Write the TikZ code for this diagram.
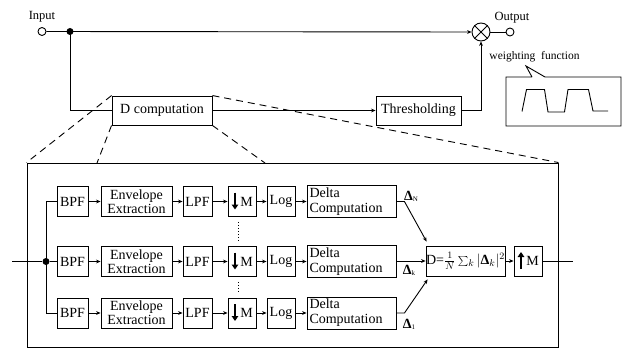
\documentclass[tikz,border=0pt]{standalone}
\usepackage{fix-cm}
\usepackage{fontspec}
\setmainfont{Liberation Serif}
\usetikzlibrary{arrows.meta,calc}
\newcommand{\bdelta}{\mbox{\bfseries Δ}}
\begin{document}
\begin{tikzpicture}[x=1pt,y=-1pt,line width=0.9pt,
  blk/.style={draw,line width=0.9pt,inner sep=1pt,font=\fontsize{14}{14}\selectfont,minimum height=30pt},
  dblk/.style={draw,line width=0.9pt,inner sep=2pt,font=\fontsize{14}{15}\selectfont,minimum height=32pt,minimum width=89pt,text width=84pt,align=left},
  arr/.style={-{Stealth[length=4.5pt,width=3.8pt]}},
  fat/.style={line width=1.9pt,-{Triangle[length=5pt,width=6.5pt]}},
  term/.style={draw,circle,fill=white,minimum size=8pt,inner sep=0pt},
  jdot/.style={circle,fill=black,minimum size=7pt,inner sep=0pt},
  lbl/.style={font=\fontsize{12.5}{12.5}\selectfont,inner sep=0pt},
  dlab/.style={font=\fontsize{14}{14}\selectfont,inner sep=0pt},
  zoomline/.style={dash pattern=on 7pt off 5pt,line width=0.9pt}]
\useasboundingbox (0,0) rectangle (624,350);

% ---- top level ----
\node[term] (in) at (42,31.5) {};
\node[lbl] (inlab) at (42,17) {Input};
\node[jdot] (j0) at (70,31.5) {};
\node[draw,circle,minimum size=18pt,inner sep=0pt] (mul) at (481,32) {};
\draw (mul.north west) -- (mul.south east) (mul.north east) -- (mul.south west);
\node[term] (out) at (510,32) {};
\node[lbl] (outlab) at (512,18) {Output};
\draw[arr] (in.east) -- (mul.west);
\draw (mul.east) -- (out.west);

\node[blk,minimum width=100pt,minimum height=29pt] (dcomp) at (162,110.5) {D computation};
\node[blk,minimum width=85pt,minimum height=29pt] (thr) at (418.5,110.5) {Thresholding};
\draw (j0.center) |- (dcomp.west);
\draw[arr] (dcomp.east) -- (thr.west);
\draw[arr] (thr.east) -| (mul.south);

% weighting function callout
\node[font=\fontsize{11.5}{11.5}\selectfont,inner sep=0pt] (wlab) at (534.5,57) {weighting\ \ function};
\draw (532,77) -- (526,66) -- (545,77) -- (621,77) -- (621,126) -- (506,126) -- (506,77) -- (532,77);
\draw (522,111.5) -- (526.5,89.5) -- (544.5,89.5) -- (548,112) -- (564.5,112) -- (568,89.5) -- (588.5,89.5) -- (593,111) -- (608,111);

% ---- expanded box ----
\node[draw,line width=0.9pt,minimum width=531pt,minimum height=184pt,inner sep=0pt] (big) at (292.5,255) {};
\coordinate (z1) at (97,163);
\coordinate (z2) at (265,163);
\draw[zoomline] (dcomp.north west) -- (big.north west);
\draw[zoomline] (dcomp.south west) -- (z1);
\draw[zoomline] (dcomp.south east) -- (z2);
\draw[zoomline] (dcomp.north east) -- (big.north east);

\foreach \r/\y in {1/201.5,2/261.5,3/313}{
  \node[blk,minimum width=31pt] (bpf\r) at (72.5,\y) {BPF};
  \node[blk,minimum width=71pt,align=center] (env\r) at (136.5,\y) {Envelope\\Extraction};
  \node[blk,minimum width=29pt] (lpf\r) at (197.5,\y) {LPF};
  \node[blk,minimum width=28pt] (dm\r) at (242,\y) {\hspace*{9pt}M};
  \node[blk,minimum width=28pt] (log\r) at (281,\y) {Log};
  \node[dblk] (delta\r) at (351.5,\y) {Delta\\Computation};
  \draw[fat] ($(dm\r.center)+(-7,-9)$) -- ($(dm\r.center)+(-7,8)$);
  \draw[arr] (bpf\r) -- (env\r);
  \draw[arr] (env\r) -- (lpf\r);
  \draw[arr] (lpf\r) -- (dm\r);
  \draw[arr] (dm\r) -- (log\r);
  \draw[arr] (log\r) -- (delta\r);
}

% input and splitting
\coordinate (inL) at (12,261.5);
\node[jdot] (j1) at (46,261.5) {};
\draw (inL) -- (j1);
\draw (j1.center) |- (bpf1.west);
\draw (j1.center) |- (bpf3.west);
\draw (j1) -- (bpf2.west);

% dotted continuation between rows
\draw[line width=1pt,dash pattern=on 1pt off 2pt] ($(dm1.south)+(-4,5)$) -- ($(dm2.north)+(-4,-5)$);
\draw[line width=1pt,dash pattern=on 1pt off 2pt] ($(dm2.south)+(-4,5)$) -- ($(dm3.north)+(-4,-5)$);

% D combination
\node[blk,minimum width=75pt,inner sep=0pt] (D) at (465.5,261) {D=$\frac{1}{N}\sum_{k}|\bdelta_{k}|^{2}$};
\node[blk,minimum width=28pt] (up) at (528,261) {\hspace*{9pt}M};
\draw[fat] ($(up.center)+(-7,8)$) -- ($(up.center)+(-7,-9)$);
\coordinate (outR) at (573,261);

\coordinate (k1) at ($(delta1.east)+(8,0)$);
\coordinate (k3) at ($(delta3.east)+(8,0)$);
\draw[arr] (delta1.east) -- (k1) -- ($(D.north west)+(1,-4)$);
\draw[arr] (delta2.east |- D.west) -- (D.west);
\draw[arr] (delta3.east) -- (k3) -- ($(D.south west)+(2,3)$);
\draw[arr] (D) -- (up);
\draw (up.east) -- (outR);

\node[dlab] (lN) at (411,196) {\bdelta\raisebox{-1pt}{\fontsize{7}{7}\selectfont N}};
\node[dlab] (lk) at (409,270) {\bdelta\raisebox{-1pt}{\fontsize{7}{7}\selectfont k}};
\node[dlab] (l1) at (409,324) {\bdelta\raisebox{-1pt}{\fontsize{7}{7}\selectfont 1}};
\end{tikzpicture}
\end{document}
